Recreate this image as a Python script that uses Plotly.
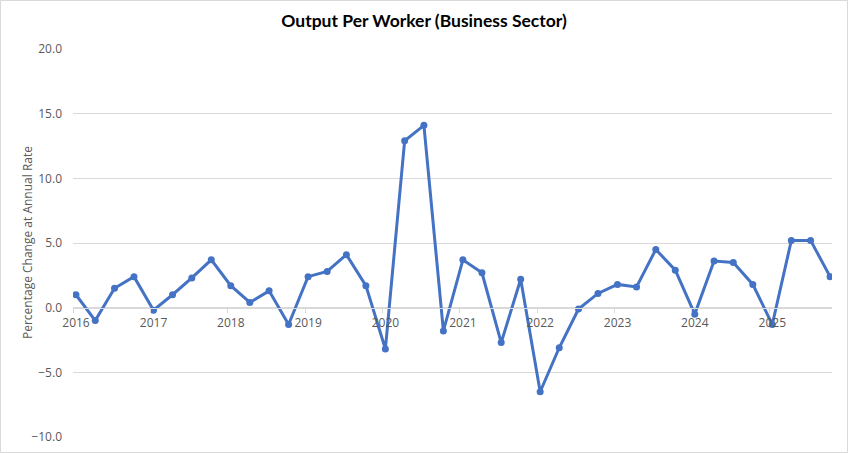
import plotly.graph_objects as go

quarters = [f"{y}-{m:02d}-15" for y in range(2016, 2026) for m in (1, 4, 7, 10)]
values = [
    1.0, -1.0, 1.5, 2.4,
    -0.2, 1.0, 2.3, 3.7,
    1.7, 0.4, 1.3, -1.3,
    2.4, 2.8, 4.1, 1.7,
    -3.2, 12.9, 14.1, -1.8,
    3.7, 2.7, -2.7, 2.2,
    -6.5, -3.1, -0.1, 1.1,
    1.8, 1.6, 4.5, 2.9,
    -0.5, 3.6, 3.5, 1.8,
    -1.3, 5.2, 5.2, 2.4,
]
year_ticks = [f"{y}-01-01" for y in range(2016, 2026)]
year_labels = [str(y) for y in range(2016, 2026)]
y_ticks = [-10, -5, 0, 5, 10, 15, 20]

W, H = 848, 453
ml, mr, mt, mb = 73, 16, 49, 16
pw = W - ml - mr
ph = H - mt - mb

fig = go.Figure()
fig.add_trace(go.Scatter(
    x=quarters, y=values, mode="lines+markers",
    line=dict(color="#4472C4", width=3),
    marker=dict(color="#4472C4", size=7),
    showlegend=False, hoverinfo="x+y",
))

fig.update_layout(
    width=W, height=H,
    margin=dict(l=ml, r=mr, t=mt, b=mb, autoexpand=False),
    paper_bgcolor="white", plot_bgcolor="white",
    font=dict(family="Open Sans, sans-serif", color="#595959", size=12),
    title=dict(text="<b>Output Per Worker (Business Sector)</b>",
               x=0.5, xanchor="center", y=1 - 21 / H, yanchor="middle",
               yref="container",
               font=dict(family="Lato, sans-serif", size=17.5, color="#000000")),
    xaxis=dict(
        type="date", range=["2016-01-01", "2025-10-24"],
        tickvals=year_ticks, ticktext=year_labels,
        ticks="outside", ticklen=4, tickcolor="#d9d9d9", tickwidth=1,
        ticklabelshift=3,
        showgrid=False, showline=True, linecolor="#d9d9d9", linewidth=1,
        zeroline=False,
        anchor="free", position=1 / 3,
        tickfont=dict(size=12, color="#595959"),
    ),
    yaxis=dict(
        range=[-10, 20], tickvals=y_ticks, tickformat=".1f",
        showgrid=True, gridcolor="#d9d9d9", gridwidth=1,
        zeroline=False, showline=False, ticks="",
        ticklabelstandoff=10,
        tickfont=dict(size=12, color="#595959"),
    ),
    annotations=[dict(
        text="Percentage Change at Annual Rate", textangle=-90,
        xref="paper", yref="paper", x=-46 / pw, y=0.5,
        xanchor="center", yanchor="middle", showarrow=False,
        font=dict(size=12, color="#595959"),
    )],
    shapes=[dict(
        type="rect", xref="paper", yref="paper",
        x0=(-ml + 0.5) / pw, x1=1 + (mr - 0.5) / pw,
        y0=(-mb + 0.5) / ph, y1=1 + (mt - 0.5) / ph,
        line=dict(color="#d9d9d9", width=1), layer="below",
    )],
)

fig.write_html("out.html", config={"displayModeBar": False})

with open("out.html", "r", encoding="utf-8") as f:
    html = f.read()
html = html.replace(
    "<head>",
    "<head><style>html,body{margin:0;padding:0;overflow:hidden;}</style>", 1)
with open("out.html", "w", encoding="utf-8") as f:
    f.write(html)
